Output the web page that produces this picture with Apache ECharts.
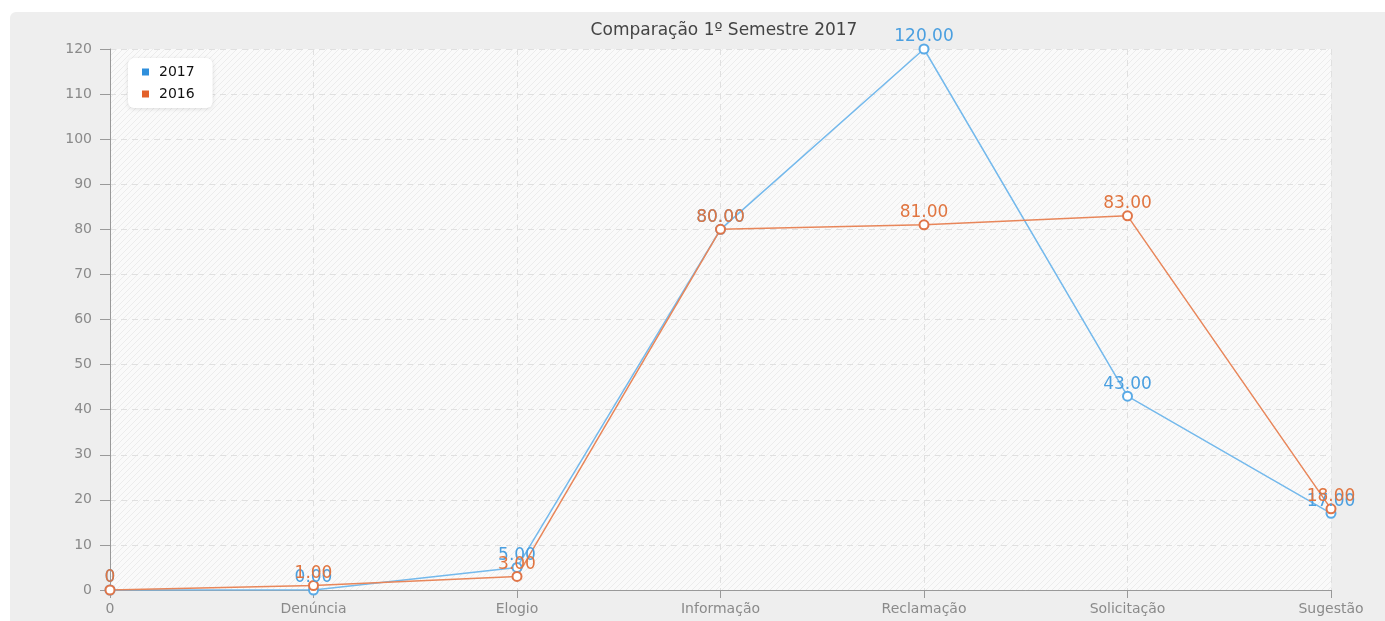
<!DOCTYPE html>
<html>
<head>
<meta charset="utf-8">
<script src="https://cdn.jsdelivr.net/npm/echarts@6/dist/echarts.min.js"></script>
<style>
  body { margin: 0; background: #fff; }
  #grafico {
    position: absolute; left: 10px; top: 12px;
    width: 1375px; height: 609px;
    background: #eeeeee;
    border-top-left-radius: 6px;
  }
</style>
</head>
<body>
<div id="grafico"></div>
<script>
  var categorias = ['0', 'Denúncia', 'Elogio', 'Informação', 'Reclamação', 'Solicitação', 'Sugestão'];
  var valores2017 = [0, 0, 5, 80, 120, 43, 17];
  var valores2016 = [0, 1, 3, 80, 81, 83, 18];
  var eixoY = { min: 0, max: 120, interval: 10 };

  // fundo listrado da area do grafico
  var listra = document.createElement('canvas');
  listra.width = 6; listra.height = 6;
  var ctx = listra.getContext('2d');
  ctx.fillStyle = '#fafafa';
  ctx.fillRect(0, 0, 6, 6);
  ctx.strokeStyle = '#ececec';
  ctx.lineWidth = 1;
  ctx.beginPath();
  ctx.moveTo(0, 6); ctx.lineTo(6, 0);
  ctx.moveTo(-3, 3); ctx.lineTo(3, -3);
  ctx.moveTo(3, 9); ctx.lineTo(9, 3);
  ctx.stroke();

  function rotulo(p) {
    return p.dataIndex === 0 ? '0' : p.value.toFixed(2);
  }

  var option = {
    textStyle: { fontFamily: 'DejaVu Sans' },
    title: {
      text: 'Comparação 1º Semestre 2017',
      left: 709, top: 5, textAlign: 'center',
      textStyle: { fontSize: 17, fontWeight: 'normal', color: '#444' }
    },
    legend: {
      data: [
        { name: '2017', itemStyle: { color: '#2f8fdc', borderWidth: 0 } },
        { name: '2016', itemStyle: { color: '#e3612a', borderWidth: 0 } }
      ],
      orient: 'vertical',
      left: 118, top: 46,
      padding: [7, 18, 7, 14],
      itemGap: 8,
      itemWidth: 7, itemHeight: 7,
      icon: 'rect',
      backgroundColor: '#ffffff',
      borderRadius: 6,
      shadowColor: 'rgba(0,0,0,0.12)', shadowBlur: 4, shadowOffsetY: 1,
      textStyle: { fontSize: 14, color: '#111', padding: [0, 0, 0, 5] }
    },
    grid: {
      left: 100, right: 54, top: 37, bottom: 31,
      show: true,
      backgroundColor: { image: listra, repeat: 'repeat' },
      borderWidth: 0
    },
    xAxis: {
      type: 'category',
      data: categorias,
      boundaryGap: false,
      axisLine: { lineStyle: { color: '#999' } },
      axisTick: { alignWithLabel: true, length: 8, lineStyle: { color: '#999' } },
      axisLabel: { color: '#8a8a8a', fontSize: 14, margin: 12 },
      splitLine: { show: true, lineStyle: { type: [6, 5], color: '#e0e0e0' } }
    },
    yAxis: {
      type: 'value',
      min: eixoY.min, max: eixoY.max, interval: eixoY.interval,
      axisLine: { show: true, lineStyle: { color: '#999' } },
      axisTick: { show: true, length: 10, lineStyle: { color: '#999' } },
      axisLabel: { color: '#8a8a8a', fontSize: 14, margin: 18 },
      splitLine: { lineStyle: { type: [6, 5], color: '#e0e0e0' } }
    },
    series: [
      {
        name: '2017', type: 'line', data: valores2017,
        symbol: 'emptyCircle', symbolSize: 9,
        lineStyle: { color: '#74b9ec', width: 1.5 },
        itemStyle: { color: '#5aaae6', borderWidth: 1.5 },
        label: { show: true, position: 'top', distance: -2, color: '#4a9fe0', fontSize: 17, formatter: rotulo }
      },
      {
        name: '2016', type: 'line', data: valores2016,
        symbol: 'emptyCircle', symbolSize: 9,
        lineStyle: { color: '#e8865a', width: 1.5 },
        itemStyle: { color: '#e07548', borderWidth: 1.5 },
        label: { show: true, position: 'top', distance: -2, color: '#e07540', fontSize: 17, formatter: rotulo }
      }
    ]
  };

  echarts.init(document.getElementById('grafico')).setOption(option);
</script>
</body>
</html>
